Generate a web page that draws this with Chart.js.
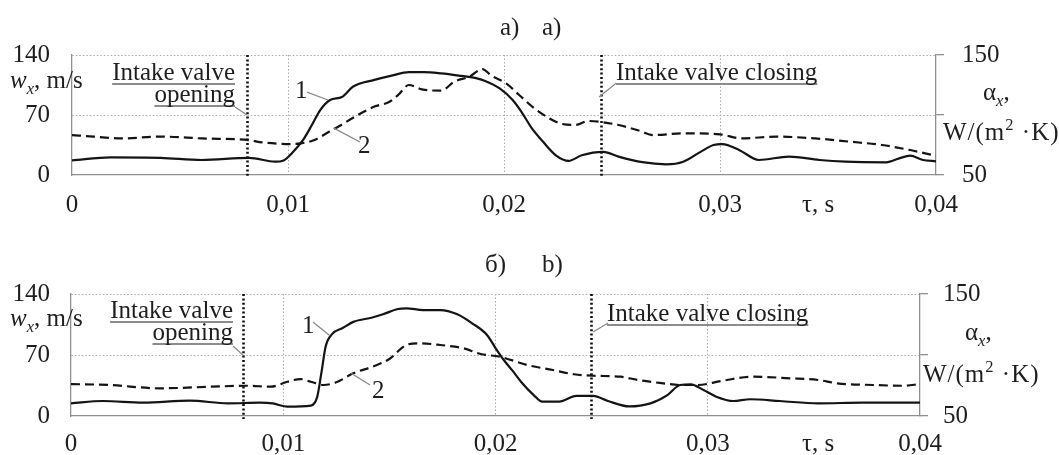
<!DOCTYPE html>
<html>
<head>
<meta charset="utf-8">
<script src="https://cdn.jsdelivr.net/npm/chart.js@4.4.1/dist/chart.umd.min.js"></script>
<style>
  html, body { margin: 0; padding: 0; background: #fff; width: 1059px; height: 455px; overflow: hidden; }
  body { position: relative; font-family: "Liberation Serif", "DejaVu Serif", serif; color: #1e1e1e; }
  canvas { position: absolute; left: 0; }
  #cA { top: 0; }
  #cB { top: 240px; }
  .t { position: absolute; font-size: 25px; line-height: 25px; white-space: nowrap; }
  .u { text-decoration: underline; text-decoration-color: #8c8c8c; text-decoration-thickness: 1.5px;
       text-underline-offset: 3px; text-decoration-skip-ink: none; }
  .wide { letter-spacing: 1px; }
  sub, sup { font-size: 0.66em; line-height: 0; }
  sub { vertical-align: -0.35em; }
  sup { vertical-align: 0.62em; }
</style>
</head>
<body>
<canvas id="cA" width="1059" height="230"></canvas>
<canvas id="cB" width="1059" height="220"></canvas>

<!-- panel a) labels -->
<div class="t" style="left:500px; top:14px">a)</div>
<div class="t" style="left:542px; top:14px">a)</div>
<div class="t" style="left:10px; top:67px"><i>w</i><sub><i>x</i></sub>, m/s</div>
<div class="t u" style="right:824px; top:59px; text-align:right">Intake valve</div>
<div class="t u" style="right:824px; top:81px; text-align:right">opening</div>
<div class="t u" style="left:616px; top:59px">Intake valve closing</div>
<div class="t" style="left:295px; top:77px">1</div>
<div class="t" style="left:358px; top:132px">2</div>
<div class="t" style="left:983px; top:79px">α<sub><i>x</i></sub>,</div>
<div class="t wide" style="left:943px; top:119px">W/(m<sup>2</sup> ·K)</div>
<div class="t" style="left:802px; top:191px">τ, s</div>

<!-- panel b) labels -->
<div class="t" style="left:485px; top:251px">б)</div>
<div class="t" style="left:542px; top:251px">b)</div>
<div class="t" style="left:10px; top:305px"><i>w</i><sub><i>x</i></sub>, m/s</div>
<div class="t u" style="right:826px; top:297px; text-align:right">Intake valve</div>
<div class="t u" style="right:826px; top:319px; text-align:right">opening</div>
<div class="t u" style="left:607px; top:300px">Intake valve closing</div>
<div class="t" style="left:302px; top:312px">1</div>
<div class="t" style="left:372px; top:377px">2</div>
<div class="t" style="left:965px; top:319px">α<sub><i>x</i></sub>,</div>
<div class="t wide" style="left:923px; top:361px">W/(m<sup>2</sup> ·K)</div>
<div class="t" style="left:802px; top:430px">τ, s</div>

<script>
// Axis ticks
const xTicks = [0, 0.01, 0.02, 0.03, 0.04];
const wTicks = [0, 70, 140];
const alphaTicks = [50, 100, 150];

// Valve events, s
const valveOpen = 0.0081;
const valveClose = 0.0245;

// Panel a): curve 1 — w_x, m/s
const tauA1 = [0, 0.0018, 0.0041, 0.0060, 0.0082, 0.0094, 0.0098, 0.0102, 0.0107, 0.0111, 0.0115,
  0.01195, 0.0125, 0.0130, 0.0140, 0.0148, 0.0156, 0.0163, 0.0171, 0.0179, 0.0187, 0.0191, 0.0198,
  0.0204, 0.0208, 0.0213, 0.0218, 0.0224, 0.0230, 0.0236, 0.0246, 0.0253, 0.0264, 0.0275, 0.0283,
  0.0291, 0.0297, 0.0301, 0.0309, 0.0318, 0.0332, 0.0346, 0.0358, 0.0377, 0.0383, 0.0388, 0.0394, 0.0400];
const wA = [17, 20.5, 20, 17.5, 20, 15.5, 17, 26, 41, 58, 76,
  87.5, 91, 103, 111, 116, 120, 120, 118.5, 116, 113, 110, 101,
  87.5, 74, 54, 39, 23, 16.5, 23, 27, 21.5, 15, 12.5, 15.5,
  27, 35, 36, 29, 17.5, 21.5, 17.5, 15.5, 14.8, 19.4, 22.5, 17.5, 16];

// Panel a): curve 2 — alpha_x, W/(m2·K)
const tauA2 = [0, 0.0010, 0.0023, 0.0041, 0.0060, 0.0082, 0.0088, 0.0102, 0.0106, 0.0112, 0.0119,
  0.0124, 0.0131, 0.0140, 0.0147, 0.0151, 0.0156, 0.0162, 0.0171, 0.0177, 0.0184, 0.0190, 0.0194,
  0.0201, 0.0207, 0.0214, 0.0221, 0.0227, 0.0233, 0.0239, 0.0246, 0.0253, 0.0263, 0.0269, 0.0283,
  0.0300, 0.0310, 0.0326, 0.0344, 0.0360, 0.0375, 0.0388, 0.0400];
const alphaA = [83.3, 82, 80.5, 82, 80.5, 79, 77.2, 75.8, 76.4, 79, 86,
  91, 98.6, 107, 111, 116.7, 125, 121.4, 120.3, 127.8, 132, 138.3, 133,
  126.4, 116.7, 105.6, 97.2, 92.5, 91.7, 95, 93.9, 91.7, 86.7, 83.3, 84.7,
  83.9, 80.5, 82, 80.5, 77.8, 75, 70.8, 66];

// Panel b): curve 1 — w_x, m/s
const tauB1 = [0, 0.0015, 0.0034, 0.0056, 0.0074, 0.0089, 0.0095, 0.0102, 0.0113, 0.0116, 0.0118,
  0.0120, 0.0123, 0.0128, 0.0133, 0.0142, 0.0147, 0.0154, 0.0158, 0.0166, 0.0174, 0.0182, 0.0189,
  0.0196, 0.0200, 0.0204, 0.0208, 0.0212, 0.0218, 0.0222, 0.0230, 0.0238, 0.0246, 0.0253, 0.0263,
  0.0273, 0.0281, 0.0287, 0.0292, 0.0298, 0.0304, 0.0312, 0.0320, 0.0334, 0.0352, 0.0373, 0.0400];
const wB = [14.5, 17.2, 15.3, 17.6, 14.5, 15.3, 14.5, 10.7, 11.9, 22, 50,
  80, 94, 101, 108, 113, 116.7, 122.8, 123.6, 121.6, 121.6, 116.7, 106.4,
  93, 78, 64, 52, 39.4, 24, 16.4, 16.4, 23, 23, 17.2, 11,
  14.5, 24, 35.6, 36.3, 29.8, 22.2, 17.2, 19.2, 17.2, 14.5, 15.3, 15.3];

// Panel b): curve 2 — alpha_x, W/(m2·K)
const tauB2 = [0, 0.0018, 0.0042, 0.0066, 0.0083, 0.0094, 0.0102, 0.0108, 0.0113, 0.0119, 0.0125,
  0.0133, 0.0142, 0.0150, 0.0158, 0.0164, 0.0174, 0.0185, 0.0193, 0.0202, 0.0215, 0.0227, 0.0237,
  0.0246, 0.0259, 0.0267, 0.0279, 0.0287, 0.0295, 0.0307, 0.0321, 0.0339, 0.0352, 0.0361, 0.0378,
  0.0392, 0.0400];
const alphaB = [76.2, 75.4, 72.7, 74, 74.8, 74, 78.1, 80.3, 78.1, 75.4, 77.6,
  85, 90.4, 96.7, 108.2, 109.6, 108.2, 105.5, 100.8, 98.6, 91.8, 87.7, 84.2,
  83, 82.2, 79.5, 76.8, 75.4, 75.4, 78.9, 82.2, 80.9, 79.5, 76.8, 75.4,
  74.8, 76.2];

// Leader lines for the "1", "2" and valve labels: [tau1, w1, tau2, w2]
const leadersA = [[0.01088, 96.8, 0.01185, 87.5], [0.01333, 38.5, 0.0121, 55],
  [0.00755, 79.3, 0.0081, 70], [0.0244, 91, 0.0252, 107.3]];
const leadersB = [[0.0114, 108, 0.0122, 92], [0.01409, 35.6, 0.0132, 49],
  [0.00763, 80.3, 0.0081, 70], [0.0246, 96.4, 0.0253, 106.7]];

const FONT = { family: '"Liberation Serif", "DejaVu Serif", serif', size: 25 };
const GRID = '#ababab';
const AXIS = '#8f8f8f';

// Draw valve markers and label leaders on top of the curves
const markerPlugin = {
  id: 'markers',
  afterDatasetsDraw(chart, args, opts) {
    const { ctx, chartArea, scales } = chart;
    const x = scales.x, y = scales.y;
    ctx.save();
    ctx.strokeStyle = '#111';
    ctx.lineWidth = 2.6;
    ctx.setLineDash([2, 2.4]);
    [valveOpen, valveClose].forEach(v => {
      const px = Math.round(x.getPixelForValue(v)) + 0.5;
      ctx.beginPath();
      ctx.moveTo(px, chartArea.top);
      ctx.lineTo(px, chartArea.bottom + 3);
      ctx.stroke();
    });
    ctx.setLineDash([]);
    ctx.strokeStyle = '#8a8a8a';
    ctx.lineWidth = 1.3;
    opts.leaders.forEach(l => {
      ctx.beginPath();
      ctx.moveTo(x.getPixelForValue(l[0]), y.getPixelForValue(l[1]));
      ctx.lineTo(x.getPixelForValue(l[2]), y.getPixelForValue(l[3]));
      ctx.stroke();
    });
    ctx.restore();
  }
};

function toPoints(tau, vals) {
  return tau.map((t, i) => ({ x: t, y: vals[i] }));
}

function makePanel(id, p) {
  const ctx = document.getElementById(id).getContext('2d');
  const lastX = xTicks.length - 1;
  return new Chart(ctx, {
    type: 'line',
    data: {
      datasets: [
        { label: '1', data: toPoints(p.tau1, p.w), yAxisID: 'y', borderColor: '#141414', borderWidth: 2.2,
          pointRadius: 0, cubicInterpolationMode: 'monotone' },
        { label: '2', data: toPoints(p.tau2, p.alpha), yAxisID: 'y2', borderColor: '#141414', borderWidth: 2.2,
          borderDash: [9, 5], pointRadius: 0, cubicInterpolationMode: 'monotone' }
      ]
    },
    options: {
      responsive: false,
      animation: false,
      events: [],
      layout: { padding: { top: p.top, left: 0, right: 0, bottom: 0 } },
      plugins: { legend: { display: false }, tooltip: { enabled: false }, markers: { leaders: p.leaders } },
      scales: {
        x: {
          type: 'linear', min: 0, max: 0.04,
          afterBuildTicks: s => { s.ticks = xTicks.map(v => ({ value: v })); },
          afterFit: s => { s.height = p.xHeight; },
          ticks: { font: FONT, color: '#1e1e1e', padding: p.xPad, maxRotation: 0,
            callback: v => v === 0 ? '0' : v.toFixed(2).replace('.', ',') },
          grid: { drawTicks: false, lineWidth: 1,
            color: c => (c.index === 0 || c.index === lastX) ? 'transparent' : GRID },
          border: { display: true, color: AXIS, width: 1.3, dash: [1.5, 2] }
        },
        y: {
          position: 'left', min: 0, max: 140,
          afterBuildTicks: s => { s.ticks = wTicks.map(v => ({ value: v })); },
          afterFit: s => { s.width = p.left; },
          ticks: { font: FONT, color: '#1e1e1e', padding: p.left - 50 },
          grid: { drawTicks: false, lineWidth: 1, color: c => c.index === 0 ? 'transparent' : GRID },
          border: { display: true, color: AXIS, width: 1.3, dash: [1.5, 2] }
        },
        y2: {
          position: 'right', min: 50, max: 150,
          afterBuildTicks: s => { s.ticks = alphaTicks.map(v => ({ value: v })); },
          afterFit: s => { s.width = 1059 - p.right; },
          ticks: { font: FONT, color: '#1e1e1e', padding: p.rPad, callback: v => v === 100 ? '' : v },
          grid: { drawOnChartArea: false, drawTicks: true, tickLength: 8, color: AXIS, lineWidth: 1.3 },
          border: { display: true, color: AXIS, width: 1.3 }
        }
      }
    },
    plugins: [markerPlugin]
  });
}

makePanel('cA', { tau1: tauA1, w: wA, tau2: tauA2, alpha: alphaA, leaders: leadersA,
  top: 55, left: 72, right: 936, xHeight: 55, xPad: 15, rPad: 18 });
makePanel('cB', { tau1: tauB1, w: wB, tau2: tauB2, alpha: alphaB, leaders: leadersB,
  top: 54, left: 71, right: 920, xHeight: 44, xPad: 13, rPad: 15 });
</script>
</body>
</html>
